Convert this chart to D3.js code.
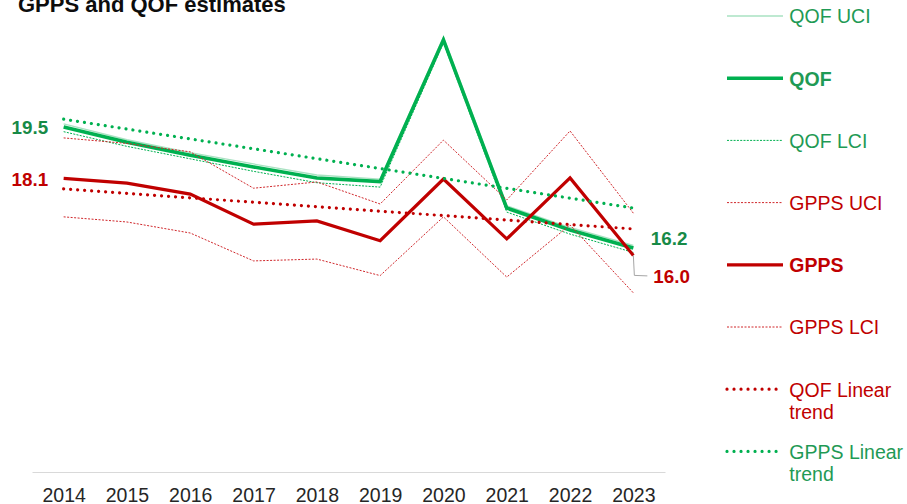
<!DOCTYPE html>
<html>
<head>
<meta charset="utf-8">
<script src="https://cdn.jsdelivr.net/npm/d3@7"></script>
<style>
  html, body { margin: 0; padding: 0; background: #ffffff; }
  svg { display: block; font-family: "Liberation Sans", Arial, sans-serif; }
</style>
</head>
<body>
<svg id="chart" width="907" height="504"></svg>
<script>
// Years on the category axis
const years = ["2014", "2015", "2016", "2017", "2018", "2019", "2020", "2021", "2022", "2023"];

// QOF estimate with its confidence interval
const qof    = [19.5, 19.08, 18.73, 18.41, 18.11, 18.01, 21.87, 17.29, 16.69, 16.2];
const qofUci = [19.58, 19.15, 18.80, 18.49, 18.19, 18.08, 21.95, 17.35, 16.76, 16.27];
const qofLci = [19.37, 18.97, 18.63, 18.29, 17.98, 17.86, 21.79, 17.18, 16.58, 16.08];

// GPPS estimate with its confidence interval
const gpps    = [18.1, 17.97, 17.67, 16.85, 16.94, 16.40, 18.08, 16.45, 18.11, 16.0];
const gppsUci = [19.20, 19.05, 18.82, 17.83, 18.00, 17.40, 19.14, 17.51, 19.39, 17.15];
const gppsLci = [17.05, 16.91, 16.61, 15.85, 15.90, 15.45, 17.05, 15.41, 16.83, 14.98];

// Linear trend lines, value at first and last year
const trendYears = ["2014", "2023"];
const qofTrend  = [19.71, 17.29];
const gppsTrend = [17.81, 16.72];

// Legend labels, top to bottom
const legendLabels = ["QOF UCI", "QOF", "QOF LCI", "GPPS UCI", "GPPS", "GPPS LCI", "QOF Linear trend", "GPPS Linear trend"];

const GREEN = "#00B050", RED = "#C00000";
const GREEN_TEXT = "#1F9A55", GREEN_LABEL = "#178A47";

const svg = d3.select("#chart");

const x = d3.scalePoint().domain(years).range([32, 665]).padding(0.5);
const y = d3.scaleLinear().domain([10, 22]).range([475.7, 35.1]);

// Title (partly above the top edge)
svg.append("text")
  .attr("x", 18).attr("y", 12)
  .attr("font-size", 22).attr("font-weight", "bold")
  .attr("fill", "#0d0d0d")
  .text("GPPS and QOF estimates");

// Category axis
const axis = svg.append("g")
  .attr("transform", "translate(0,472)")
  .call(d3.axisBottom(x).tickSize(0).tickPadding(16));
axis.select(".domain").attr("stroke", "#D9D9D9").attr("stroke-width", 1.2);
axis.selectAll("text")
  .attr("font-size", 19.5)
  .attr("font-family", "'Liberation Sans', Arial, sans-serif")
  .attr("fill", "#262626");

// Line styles for each series
const styles = {
  qofUci:    { stroke: "#A9E2C2", width: 1.3, dash: null, cap: "butt" },
  qof:       { stroke: GREEN, width: 3.6, dash: null, cap: "butt" },
  qofLci:    { stroke: GREEN, width: 1, dash: "2 1.3", cap: "butt" },
  gppsUci:   { stroke: "#D0272B", width: 1, dash: "2 1.5", cap: "butt" },
  gpps:      { stroke: RED, width: 3.2, dash: null, cap: "butt" },
  gppsLci:   { stroke: "#D0272B", width: 1, dash: "2 1.5", cap: "butt" },
  redTrend:  { stroke: RED, width: 3.2, dash: "0.01 7", cap: "round" },
  greenTrend:{ stroke: GREEN, width: 3.2, dash: "0.01 7", cap: "round" }
};

const line = d3.line().x(d => x(d[0])).y(d => y(d[1]));

function drawSeries(cats, vals, style) {
  const pts = cats.map((c, i) => [c, vals[i]]);
  svg.append("path")
    .attr("d", line(pts))
    .attr("fill", "none")
    .attr("stroke", style.stroke)
    .attr("stroke-width", style.width)
    .attr("stroke-dasharray", style.dash)
    .attr("stroke-linecap", style.cap)
    .attr("stroke-linejoin", "miter");
}

drawSeries(years, qofUci, styles.qofUci);
drawSeries(years, qof, styles.qof);
drawSeries(years, qofLci, styles.qofLci);
drawSeries(years, gppsUci, styles.gppsUci);
drawSeries(years, gpps, styles.gpps);
drawSeries(years, gppsLci, styles.gppsLci);
drawSeries(trendYears, qofTrend, styles.greenTrend);
drawSeries(trendYears, gppsTrend, styles.redTrend);

// Data labels at the ends of the two main series
const first = years[0], last = years[years.length - 1];
const labelFont = 18.8;

svg.append("text")
  .attr("x", x(first) - 15.5).attr("y", y(qof[0]) + 7.5)
  .attr("text-anchor", "end").attr("font-size", labelFont).attr("font-weight", "bold")
  .attr("fill", GREEN_LABEL).text(qof[0].toFixed(1));

svg.append("text")
  .attr("x", x(first) - 15.5).attr("y", y(gpps[0]) + 7.5)
  .attr("text-anchor", "end").attr("font-size", labelFont).attr("font-weight", "bold")
  .attr("fill", RED).text(gpps[0].toFixed(1));

svg.append("text")
  .attr("x", x(last) + 17.5).attr("y", y(qof[9]) - 3)
  .attr("font-size", labelFont).attr("font-weight", "bold")
  .attr("fill", GREEN_LABEL).text(qof[9].toFixed(1));

// Leader line for the last GPPS label
const gx = x(last), gy = y(gpps[9]);
svg.append("path")
  .attr("d", `M${gx},${gy} L${gx + 1},${gy + 20} L${gx + 14},${gy + 20.5}`)
  .attr("fill", "none").attr("stroke", "#A6A6A6").attr("stroke-width", 1);

svg.append("text")
  .attr("x", gx + 20).attr("y", gy + 28)
  .attr("font-size", labelFont).attr("font-weight", "bold")
  .attr("fill", RED).text(gpps[9].toFixed(1));

// Legend
const legendStyles = [styles.qofUci, styles.qof, styles.qofLci, styles.gppsUci,
                      styles.gpps, styles.gppsLci, styles.redTrend, styles.greenTrend];
const legendColors = [GREEN_TEXT, GREEN_TEXT, GREEN_TEXT, RED, RED, RED, RED, GREEN_TEXT];
const legendBold = [false, true, false, false, true, false, false, false];

const legend = svg.append("g");
legendLabels.forEach((label, i) => {
  const cy = 16 + i * 62.2;
  const st = legendStyles[i];
  legend.append("line")
    .attr("x1", 727).attr("x2", 783)
    .attr("y1", cy).attr("y2", cy)
    .attr("stroke", st.stroke)
    .attr("stroke-width", st.width)
    .attr("stroke-dasharray", st.dash)
    .attr("stroke-linecap", st.cap);
  const words = label.split(" ");
  const lines = words.length > 2 ? [words.slice(0, 2).join(" "), words.slice(2).join(" ")] : [label];
  const t = legend.append("text")
    .attr("x", 789.3).attr("y", cy + 7.3)
    .attr("font-size", 19.5)
    .attr("font-weight", legendBold[i] ? "bold" : "normal")
    .attr("fill", legendColors[i]);
  lines.forEach((ln, j) => {
    t.append("tspan").attr("x", 789.3).attr("dy", j === 0 ? 0 : 22.5).text(ln);
  });
});
</script>
</body>
</html>
